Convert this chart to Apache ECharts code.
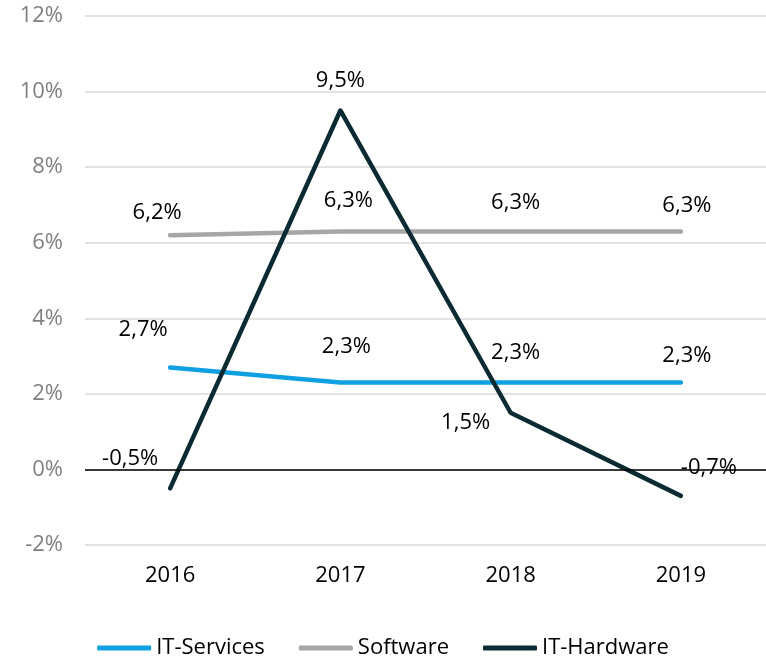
<!DOCTYPE html>
<html>
<head>
<meta charset="utf-8">
<script src="https://cdn.jsdelivr.net/npm/echarts@6/dist/echarts.min.js"></script>
<style>
  html, body { margin: 0; padding: 0; background: #fff; }
  #chart { width: 766px; height: 658px; }
</style>
</head>
<body>
<div id="chart"></div>
<script>
// data
var years = ['2016', '2017', '2018', '2019'];
var seriesNames = ['IT-Services', 'Software', 'IT-Hardware'];
var itServices = [2.7, 2.3, 2.3, 2.3];
var software = [6.2, 6.3, 6.3, 6.3];
var itHardware = [-0.5, 9.5, 1.5, -0.7];
var yTicks = [-2, 0, 2, 4, 6, 8, 10, 12];

// label offsets (px, relative to point)
var servicesOffsets = [[-27, -38], [6, -36], [5, -30], [6, -27]];
var softwareOffsets = [[-13, -22], [8, -31], [5, -29], [6, -26]];
var hardwareOffsets = [[-40, -30], [0, -30], [-45, 10], [28, -28]];

var colors = ['#0ea0e2', '#a6a6a6', '#0b2a32'];
var font = '"Open Sans", "Liberation Sans", sans-serif';

function fmt(v) {
  return v.toFixed(1).replace('.', ',') + '%';
}

function build(values, offsets) {
  return values.map(function (v, i) {
    return { value: v, label: { offset: offsets[i] } };
  });
}

function lineSeries(name, values, offsets, color, z) {
  return {
    name: name,
    type: 'line',
    z: z,
    data: build(values, offsets),
    symbol: 'circle',
    symbolSize: 1,
    showSymbol: true,
    itemStyle: { color: color },
    lineStyle: { color: color, width: 4.5, cap: 'round', join: 'round' },
    label: {
      show: true,
      position: 'inside',
      color: '#000',
      fontFamily: font,
      fontSize: 22,
      formatter: function (p) { return fmt(p.value); }
    },
    emphasis: { disabled: true }
  };
}

var myChart = echarts.init(document.getElementById('chart'));
var option = {
  animation: false,
  grid: { left: 85, right: 0, top: 16, bottom: 113 },
  legend: {
    top: 632,
    left: 'center',
    itemWidth: 54,
    itemHeight: 5,
    itemGap: 34,
    icon: 'roundRect',
    data: seriesNames,
    textStyle: { color: '#000', fontFamily: font, fontSize: 22 }
  },
  xAxis: {
    type: 'category',
    data: years,
    axisLine: { show: false, onZero: false },
    axisTick: { show: false },
    axisLabel: { color: '#000', fontFamily: font, fontSize: 22, margin: 20 }
  },
  yAxis: {
    type: 'value',
    min: yTicks[0],
    max: yTicks[yTicks.length - 1],
    interval: 2,
    axisLine: { show: false },
    axisTick: { show: false },
    splitLine: { lineStyle: { color: '#d9d9d9', width: 1.5 } },
    axisLabel: {
      color: '#808080', fontFamily: font, fontSize: 22, margin: 22,
      formatter: '{value}%'
    }
  },
  series: [
    lineSeries(seriesNames[0], itServices, servicesOffsets, colors[0], 3),
    lineSeries(seriesNames[1], software, softwareOffsets, colors[1], 2),
    (function () {
      var s = lineSeries(seriesNames[2], itHardware, hardwareOffsets, colors[2], 4);
      s.markLine = {
        silent: true,
        symbol: 'none',
        label: { show: false },
        lineStyle: { color: '#000', width: 1.5, type: 'solid' },
        data: [{ yAxis: 0 }]
      };
      return s;
    })()
  ]
};
myChart.setOption(option);
</script>
</body>
</html>
